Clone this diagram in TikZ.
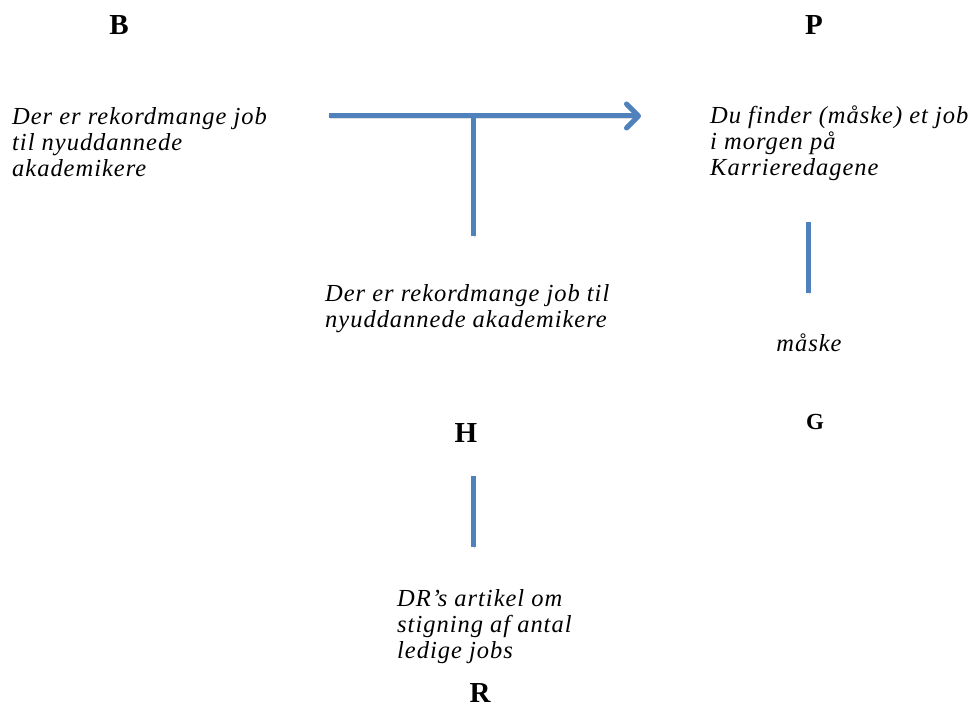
\documentclass[tikz,border=0pt]{standalone}
\usepackage{fontspec}
\setmainfont{Liberation Serif}
\usetikzlibrary{arrows.meta}
\definecolor{linkblue}{RGB}{79,129,189}
\tikzset{
  partletter/.style={font=\bfseries\fontsize{29}{32}\selectfont,inner sep=0pt},
  parttext/.style={font=\itshape\fontsize{24.5}{26}\selectfont\addfontfeature{LetterSpace=4},
    align=left,anchor=base west,inner sep=0pt},
  link/.style={line width=5pt,draw=linkblue,
    preaction={draw=black!40,opacity=.3,transform canvas={shift={(1,2)}}}},
}
\begin{document}
\begin{tikzpicture}[x=1pt,y=-1pt]
\useasboundingbox (0,0) rectangle (978,708);
% letters
\node[partletter] (B) at (119,25) {B};
\node[partletter] (P) at (814,25) {P};
\node[partletter,font=\bfseries\fontsize{23}{26}\selectfont] (G) at (815,422) {G};
\node[partletter] (H) at (466,433) {H};
\node[partletter] (R) at (480,693) {R};
% texts (base = last line)
\node[parttext] (data) at (12,177) {Der er rekordmange job\\til nyuddannede\\akademikere};
\node[parttext] (claim) at (710,176) {Du finder (måske) et job\\i morgen på\\Karrieredagene};
\node[parttext] (warrant) at (325,328) {Der er rekordmange job til\\nyuddannede akademikere};
\node[parttext,anchor=base] (qualifier) at (809,352) {måske};
\node[parttext] (backing) at (397,658) {DR’s artikel om\\stigning af antal\\ledige jobs};
%
\coordinate (arrowtail) at (329,116);
\coordinate (arrowtip) at (641,116);
\coordinate (warrantfoot) at (473,236);
\coordinate (qualtop) at (808,222);
\coordinate (qualfoot) at (808,293);
\coordinate (backtop) at (473,476);
\coordinate (backfoot) at (473,547);
\draw[link,-{Straight Barb[length=12pt,width=24pt,line cap=round,line join=round]}] (arrowtail) -- (arrowtip);
\draw[link] (warrantfoot) -- (warrantfoot |- arrowtail);
\draw[link] (qualtop) -- (qualfoot);
\draw[link] (backtop) -- (backfoot);
\end{tikzpicture}
\end{document}
